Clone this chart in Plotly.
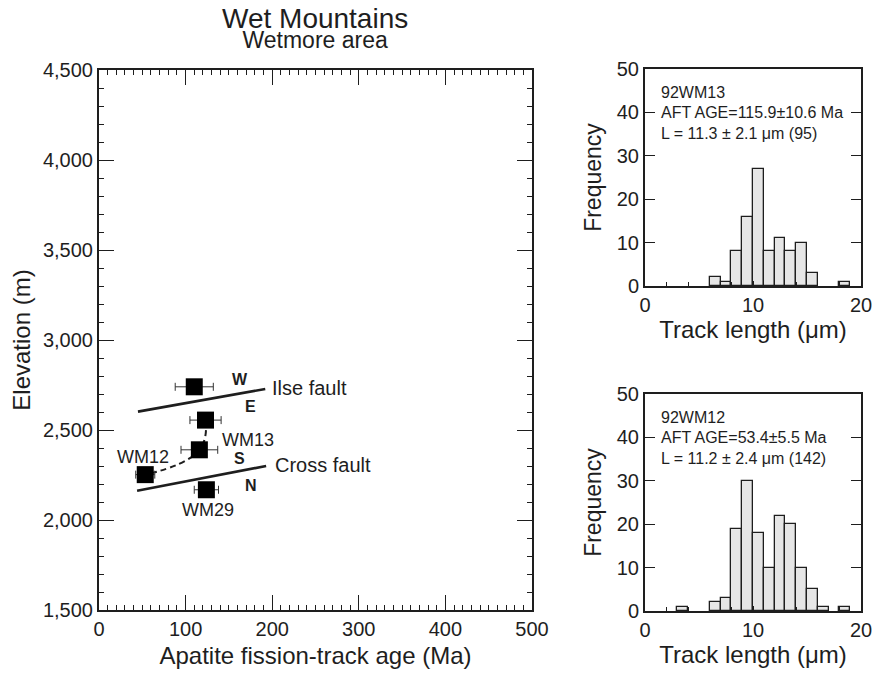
import plotly.graph_objects as go

# ---------------- data ----------------
# Left panel: apatite fission-track age vs. sample elevation
sample_age = [110.0, 123.0, 115.9, 53.4, 124.0]          # Ma
sample_elev = [2740, 2555, 2390, 2252, 2168]             # m
sample_err = [22.0, 18.0, 21.2, 11.0, 14.0]              # Ma (2 sigma)

# Dashed trend connecting three of the samples (indices into the arrays above)
trend_idx = [1, 2, 3]

# Fault traces
ilse_age = [45, 192]
ilse_elev = [2602, 2728]
cross_age = [44, 193]
cross_elev = [2163, 2300]

# Track-length histograms (1 um bins, left edges 0..19)
bin_left = list(range(0, 20))
counts_wm13 = [0, 0, 0, 0, 0, 0, 2, 1, 8, 16, 27, 8, 11, 8, 10, 3, 0, 0, 1, 0]
counts_wm12 = [0, 0, 0, 1, 0, 0, 2, 3, 19, 30, 18, 10, 22, 20, 10, 5, 1, 0, 1, 0]

hist_info = [
    ["92WM13", "AFT AGE=115.9\u00b110.6 Ma", "L = 11.3 \u00b1 2.1 \u03bcm (95)"],
    ["92WM12", "AFT AGE=53.4\u00b15.5 Ma", "L = 11.2 \u00b1 2.4 \u03bcm (142)"],
]

x_ticks = [0, 100, 200, 300, 400, 500]
y_ticks = [1500, 2000, 2500, 3000, 3500, 4000, 4500]

# ---------------- styling ----------------
FONT = "Liberation Sans, Arial, Helvetica, sans-serif"
INK = "#1e1e1e"
W, H = 873, 677


def px_x(p):
    return p / W


def px_y(p):
    return 1 - p / H


fig = go.Figure()

# Fault lines
for xs, ys in [(ilse_age, ilse_elev), (cross_age, cross_elev)]:
    fig.add_trace(go.Scatter(x=xs, y=ys, mode="lines",
                             line=dict(color=INK, width=2.6),
                             xaxis="x", yaxis="y", showlegend=False,
                             hoverinfo="skip"))

# Dashed trend
fig.add_trace(go.Scatter(
    x=[sample_age[i] for i in trend_idx],
    y=[sample_elev[i] for i in trend_idx],
    mode="lines", line=dict(color=INK, width=2, dash="6px,4px", shape="spline",
                            smoothing=1.3),
    xaxis="x", yaxis="y", showlegend=False, hoverinfo="skip"))

# Samples with error bars
fig.add_trace(go.Scatter(
    x=sample_age, y=sample_elev, mode="markers",
    marker=dict(symbol="square", size=17, color="black"),
    error_x=dict(type="data", array=sample_err, color="#333333",
                 thickness=1, width=4),
    xaxis="x", yaxis="y", showlegend=False))

# Histograms
for k, counts in enumerate([counts_wm13, counts_wm12]):
    xs = [b + 0.5 for b, c in zip(bin_left, counts) if c > 0]
    ys = [c for c in counts if c > 0]
    fig.add_trace(go.Bar(
        x=xs, y=ys, width=1.0,
        marker=dict(color="#e6e6e6", line=dict(color=INK, width=1.3)),
        xaxis="x%d" % (k + 2), yaxis="y%d" % (k + 2), showlegend=False))

axis_common = dict(showline=True, linecolor=INK, linewidth=2,
                   ticks="inside", tickcolor=INK, tickwidth=1,
                   showgrid=False, zeroline=False, automargin=False,
                   tickfont=dict(family=FONT, size=20, color=INK))

fig.update_layout(
    width=W, height=H,
    margin=dict(l=0, r=0, t=0, b=0, pad=0, autoexpand=False),
    paper_bgcolor="white", plot_bgcolor="white",
    font=dict(family=FONT, color=INK),
    bargap=0,
    xaxis=dict(**axis_common, domain=[px_x(99), px_x(532)], range=[0, 500],
               tickvals=x_ticks, ticklen=15, mirror="allticks",
               minor=dict(dtick=10, ticklen=5, tickcolor=INK, tickwidth=1,
                          ticks="inside", showgrid=False),
               title=dict(text="Apatite fission-track age (Ma)",
                          font=dict(size=24, family=FONT, color=INK),
                          standoff=8),
               anchor="y"),
    yaxis=dict(**axis_common, domain=[px_y(610), px_y(70)], range=[1500, 4500],
               tickvals=y_ticks, tickformat=",d", ticklen=15, mirror="allticks",
               minor=dict(dtick=100, ticklen=5, tickcolor=INK, tickwidth=1,
                          ticks="inside", showgrid=False),
               title=dict(text="Elevation (m)",
                          font=dict(size=24, family=FONT, color=INK),
                          standoff=6),
               anchor="x"),
)

hist_domains_y = [[px_y(286), px_y(69)], [px_y(611), px_y(394)]]
for k in range(2):
    xa = "xaxis%d" % (k + 2)
    ya = "yaxis%d" % (k + 2)
    fig.update_layout(**{
        xa: dict(**axis_common, domain=[px_x(645), px_x(861)], range=[0, 20],
                 tickvals=[0, 10, 20], ticklen=5, mirror=True,
                 minor=dict(dtick=2, ticklen=4, tickcolor=INK, tickwidth=1,
                            ticks="inside", showgrid=False),
                 title=dict(text="Track length (\u03bcm)",
                            font=dict(size=24, family=FONT, color=INK),
                            standoff=5),
                 anchor="y%d" % (k + 2)),
        ya: dict(**axis_common, domain=hist_domains_y[k], range=[0, 50],
                 tickvals=[0, 10, 20, 30, 40, 50], ticklen=10, mirror="ticks",
                 title=dict(text="Frequency",
                            font=dict(size=23, family=FONT, color=INK),
                            standoff=9),
                 anchor="x%d" % (k + 2)),
    })

annotations = []

# Title block: one text element, the base font size sets the tight line pitch
annotations.append(dict(
    text=("<span style='font-size:28px'>Wet Mountains</span><br>"
          "<span style='font-size:23px'>Wetmore area</span>"),
    x=px_x(315), y=px_y(28), xref="paper", yref="paper", showarrow=False,
    font=dict(size=15, family=FONT, color=INK),
    xanchor="center", yanchor="middle", align="center"))

# Left-panel labels: (text, age, elevation, size, bold, anchor)
panel_labels = [
    ("Ilse fault", 197, 2736, 20, False, "left"),
    ("Cross fault", 201, 2303, 20, False, "left"),
    ("W", 163, 2778, 16, True, "center"),
    ("E", 175.5, 2633, 16, True, "center"),
    ("S", 162, 2343, 16, True, "center"),
    ("N", 176, 2194, 16, True, "center"),
    ("WM12", 51, 2352, 18, False, "center"),
    ("WM13", 172.5, 2444, 18, False, "center"),
    ("WM29", 126, 2056, 18, False, "center"),
]
for text, ax_, ay_, size, bold, anchor in panel_labels:
    annotations.append(dict(
        text="<b>%s</b>" % text if bold else text,
        x=ax_, y=ay_, xref="x", yref="y", showarrow=False,
        font=dict(size=size, family=FONT, color=INK),
        xanchor=anchor, yanchor="middle"))

# Histogram legends
for k, lines in enumerate(hist_info):
    for j, line in enumerate(lines):
        annotations.append(dict(
            text=line, x=0.065, y=0.894 - j * 0.0945,
            xref="x%d domain" % (k + 2), yref="y%d domain" % (k + 2),
            showarrow=False, xanchor="left", yanchor="middle",
            bgcolor="white", borderpad=1,
            font=dict(size=16, family=FONT, color=INK)))

fig.update_layout(annotations=annotations)

fig.write_html("out.html")
